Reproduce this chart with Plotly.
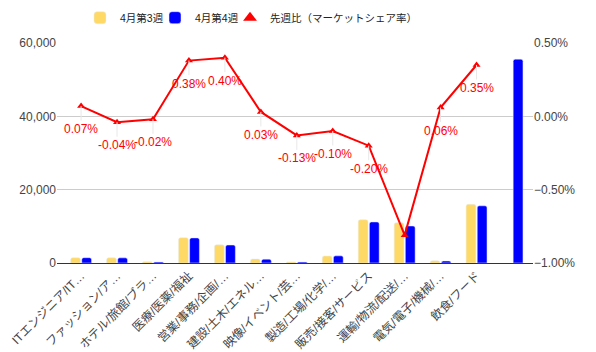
import plotly.graph_objects as go

categories = ["ITエンジニア/IT…", "ファッション/ア…", "ホテル/旅館/ブラ…", "医療/医薬/福祉",
              "営業/事務/企画/…", "建設/土木/エネル…", "映像/イベント/芸…", "製造/工場/化学/…",
              "販売/接客/サービス", "運輸/物流/配送/…", "電気/電子/機械/…", "飲食/フード", ""]
week3 = [1450, 1400, 350, 6900, 4950, 1100, 300, 1900, 11800, 11000, 600, 16000, None]
week4 = [1450, 1400, 300, 6850, 4900, 1050, 300, 1950, 11200, 10100, 550, 15600, 55600]
share = [0.07, -0.04, -0.02, 0.38, 0.40, 0.03, -0.13, -0.10, -0.20, -0.81, 0.06, 0.35]
share_labels = ["0.07%", "-0.04%", "-0.02%", "0.38%", "0.40%", "0.03%", "-0.13%", "-0.10%",
                "-0.20%", "", "0.06%", "0.35%"]

x_bar = list(range(len(categories)))
x_line = list(range(len(share)))

FONT = "Liberation Sans, Arial, Noto Sans CJK JP, sans-serif"

fig = go.Figure()
fig.add_trace(go.Bar(x=x_bar, y=week3, name="4月第3週", marker_color="#ffd966", legend="legend"))
fig.add_trace(go.Bar(x=x_bar, y=week4, name="4月第4週", marker_color="#0000ff", legend="legend2"))
fig.add_trace(go.Scatter(x=x_line, y=share, name="先週比（マーケットシェア率）", yaxis="y2",
                         mode="lines+markers", showlegend=False,
                         line=dict(color="#ff0000", width=2),
                         marker=dict(symbol="triangle-up", size=7, color="#ff0000")))
# legend entry showing only the triangle symbol
fig.add_trace(go.Scatter(x=[None], y=[None], name="先週比（マーケットシェア率）", yaxis="y2",
                         mode="markers", legend="legend3",
                         marker=dict(symbol="triangle-up", size=12, color="#ff0000")))

for xi, yi, lab in zip(x_line, share, share_labels):
    if lab:
        fig.add_annotation(x=xi, y=yi, yref="y2", text=lab, showarrow=True,
                           arrowhead=0, arrowcolor="#e8e8e8", arrowwidth=1,
                           ax=0, ay=23, font=dict(color="#ff0000", size=12, family=FONT))

def leg(xpos):
    return dict(orientation="h", x=xpos, xanchor="left", y=0.991, yanchor="top",
                xref="container", yref="container", bgcolor="rgba(0,0,0,0)",
                font=dict(size=10.5, color="#222"))

fig.update_layout(
    width=596, height=352,
    margin=dict(l=57, r=63, t=43, b=89, autoexpand=False),
    paper_bgcolor="white", plot_bgcolor="white",
    font=dict(family=FONT, size=12, color="#444"),
    barmode="group", bargap=0.38, bargroupgap=0.12, barcornerradius=2,
    showlegend=True,
    legend=leg(80 / 596), legend2=leg(155 / 596), legend3=leg(230 / 596),
    xaxis=dict(range=[-0.67, 12.57], tickmode="array", tickvals=x_bar, ticktext=categories,
               tickangle=-45, showgrid=False, showline=True, linecolor="#333", linewidth=1,
               ticks="", automargin=False, tickfont=dict(size=12, color="#444")),
    yaxis=dict(range=[0, 60000], dtick=20000, tickformat=",", gridcolor="#cccccc",
               zeroline=False, ticks="", automargin=False, tickfont=dict(size=12, color="#444")),
    yaxis2=dict(range=[-1.0, 0.5], dtick=0.5, tickformat=".2f", ticksuffix="%",
                overlaying="y", side="right", showgrid=False, zeroline=False, ticks="",
                automargin=False, tickfont=dict(size=12, color="#444")),
)

fig.write_html("out.html")
